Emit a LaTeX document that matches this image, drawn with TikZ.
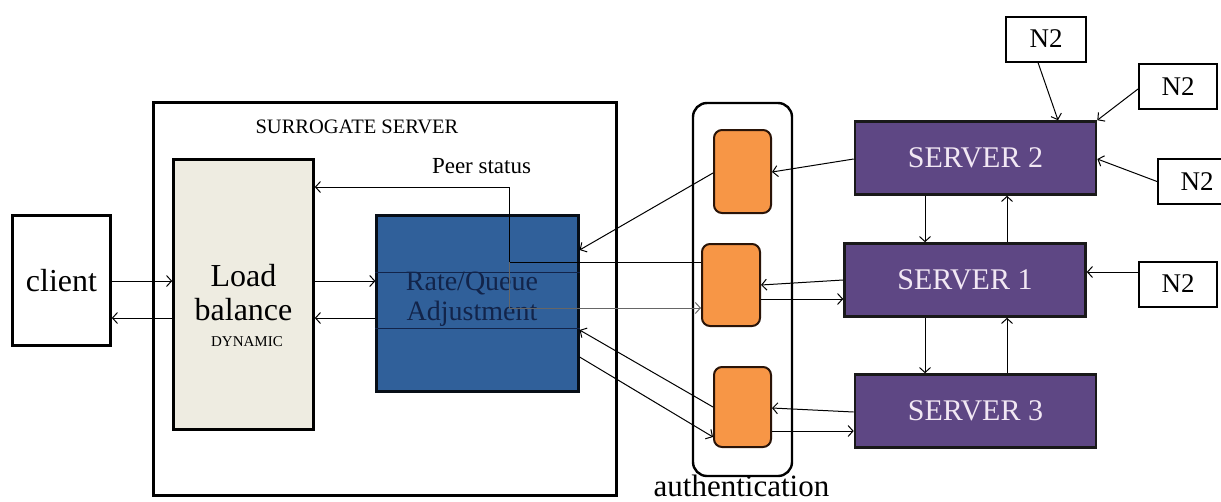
\documentclass[tikz,border=0pt]{standalone}
\usepackage{fontspec}
\setmainfont{Liberation Serif}
\usetikzlibrary{arrows.meta}
\definecolor{LbBeige}{HTML}{EEECE1}
\definecolor{RateBlue}{HTML}{30609A}
\definecolor{RateInk}{HTML}{12244A}
\definecolor{SrvPurple}{HTML}{5E4784}
\definecolor{SrvText}{HTML}{F2E8F4}
\definecolor{AuthOrange}{HTML}{F79646}
\definecolor{AuthEdge}{HTML}{2A1408}
\newcommand{\pxfont}[1]{\fontsize{#1}{#1}\selectfont}
\tikzset{
    block/.style={rectangle, draw, line width=2.6pt, inner sep=0},
    lbbox/.style={block, fill=LbBeige},
    ratebox/.style={block, draw=black!85!RateBlue, line width=2.2pt, fill=RateBlue},
    srvbox/.style={block, draw=black!90, fill=SrvPurple, text=SrvText,
                   minimum width=241pt, minimum height=73pt, font=\pxfont{30}},
    authbox/.style={rectangle, rounded corners=8pt, draw=AuthEdge,
                    line width=2pt, fill=AuthOrange, inner sep=0},
    authcase/.style={rectangle, rounded corners=14pt, draw, line width=2.4pt, inner sep=0},
    nbox/.style={rectangle, draw, line width=2pt, inner sep=0,
                 minimum width=78pt, minimum height=45pt, font=\pxfont{27}},
    txt/.style={anchor=base, inner sep=0},
    link/.style={-{Straight Barb[length=5pt,width=11pt]}, line width=1pt},
    bar/.style={line width=1pt},
}

\begin{document}
\begin{tikzpicture}[x=1pt, y=-1pt]
    \useasboundingbox (0,0) rectangle (1221,501);
    % client and surrogate server
    \node[block, minimum width=98pt, minimum height=130pt, font=\pxfont{32}] (Client) at (61.5,280.5) {client};
    \node[block, minimum width=463pt, minimum height=393pt] (Surr) at (385,299) {};
    \node[txt, font=\pxfont{20.5}] (SurrLbl) at (357,133) {SURROGATE SERVER};
    %
    \node[lbbox, minimum width=140pt, minimum height=270pt] (LoadBal) at (243.5,294.5) {};
    \node[txt, font=\pxfont{32}] (LoadBal.L1) at (243.5,286) {Load};
    \node[txt, font=\pxfont{32}] (LoadBal.L2) at (243.5,320) {balance};
    \node[txt, font=\pxfont{15}] (LoadBal.L3) at (247,346) {DYNAMIC};
    %
    \node[ratebox, minimum width=202pt, minimum height=176pt] (RateQ) at (477.5,303.5) {};
    \draw[bar, RateInk] (RateQ.west |- 0,272) -- (RateQ.east |- 0,272);
    \draw[bar, RateInk] (RateQ.west |- 0,328) -- (RateQ.east |- 0,328);
    \node[txt, font=\pxfont{28}, text=RateInk] (RateQ.L1) at (472,290) {Rate/Queue};
    \node[txt, font=\pxfont{28}, text=RateInk] (RateQ.L2) at (472,320) {Adjustment};
    \node[txt, font=\pxfont{23}] (PeerLbl) at (481.5,173) {Peer status};
    %
    % authentication column
    \node[authcase, minimum width=99pt, minimum height=373pt] (AuthCase) at (742.5,289.5) {};
    \node[authbox, minimum width=57pt, minimum height=83pt] (AuthT) at (742.5,171.5) {};
    \node[authbox, minimum width=58pt, minimum height=82pt] (AuthM) at (731,285) {};
    \node[authbox, minimum width=57pt, minimum height=80pt] (AuthB) at (742.5,407) {};
    \node[txt, font=\pxfont{31}] (AuthLbl) at (741.5,496) {authentication};
    %
    % servers
    \node[srvbox] (Srv2) at (975.5,158) {SERVER 2};
    \node[srvbox] (Srv1) at (965,280) {SERVER 1};
    \node[srvbox] (Srv3) at (975.5,411) {SERVER 3};
    %
    \node[nbox, minimum width=80pt] (N2a) at (1046,39) {N2};
    \node[nbox] (N2b) at (1178,86.5) {N2};
    \node[nbox] (N2c) at (1197,181.5) {N2};
    \node[nbox] (N2d) at (1178,284) {N2};
    %
    % client <-> load balance <-> rate
    \draw[link] (Client.east |- 0,281) -- (LoadBal.west |- 0,281);
    \draw[link] (LoadBal.west |- 0,318) -- (Client.east |- 0,318);
    \draw[link] (LoadBal.east |- 0,281) -- (RateQ.west |- 0,281);
    \draw[link] (RateQ.west |- 0,318) -- (LoadBal.east |- 0,318);
    %
    % peer status feedback
    \coordinate (PeerJoin) at (509,262);
    \draw[bar] (AuthM.west |- PeerJoin) -- (PeerJoin);
    \draw[link] (PeerJoin) |- (LoadBal.east |- 0,187);
    \draw[link, black!60] (PeerJoin) |- (AuthM.west |- 0,308);
    %
    \draw[link] (AuthT.west |- 0,173) -- (RateQ.east |- 0,250);
    \draw[link] (AuthB.west) -- (RateQ.east |- 0,330);
    \draw[link] (RateQ.east |- 0,357) -- (AuthB.west |- 0,437);
    %
    % servers <-> authentication
    \draw[link] (Srv2.west |- 0,159) -- (AuthT.east |- 0,172);
    \draw[link] (Srv1.west) -- (AuthM.east |- 0,285);
    \draw[link] (AuthM.east |- 0,299) -- (Srv1.west |- 0,299);
    \draw[link] (Srv3.west |- 0,412) -- (AuthB.east |- 0,408);
    \draw[link] (AuthB.east |- 0,431) -- (Srv3.west |- 0,431);
    %
    \draw[link] (Srv2.south -| 925,0) -- (Srv1.north -| 925,0);
    \draw[link] (Srv1.north -| 1007,0) -- (Srv2.south -| 1007,0);
    \draw[link] (Srv1.south -| 925,0) -- (Srv3.north -| 925,0);
    \draw[link] (Srv3.north -| 1007,0) -- (Srv1.south -| 1007,0);
    %
    % N2 inputs
    \draw[link] (N2a.south -| 1038,0) -- (Srv2.north -| 1058,0);
    \draw[link] (N2b.west |- 0,89) -- (Srv2.north east);
    \draw[link] (N2c.west) -- (Srv2.east |- 0,159);
    \draw[link] (N2d.west |- 0,272) -- (Srv1.east |- 0,272);
\end{tikzpicture}
\end{document}
